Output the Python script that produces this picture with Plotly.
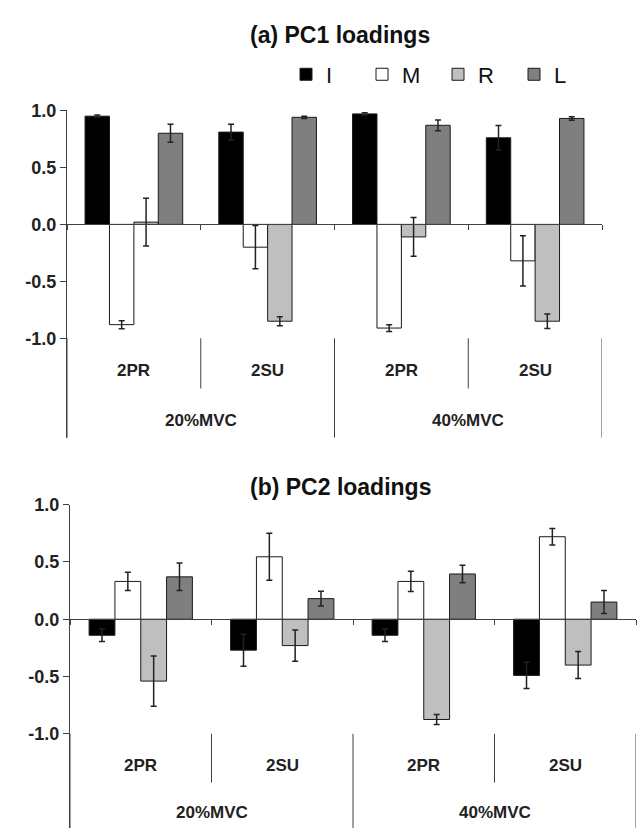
import plotly.graph_objects as go

# ---------------- data ----------------
conditions = ["20%MVC", "20%MVC", "40%MVC", "40%MVC"]
postures = ["2PR", "2SU", "2PR", "2SU"]
series = ["I", "M", "R", "L"]

pc1_I = [0.95, 0.81, 0.97, 0.76]
pc1_M = [-0.88, -0.20, -0.91, -0.32]
pc1_R = [0.02, -0.85, -0.11, -0.85]
pc1_L = [0.80, 0.94, 0.87, 0.93]
pc1_I_err = [0.01, 0.07, 0.01, 0.107]
pc1_M_err = [0.035, 0.19, 0.03, 0.22]
pc1_R_err = [0.21, 0.04, 0.17, 0.063]
pc1_L_err = [0.08, 0.01, 0.047, 0.015]

pc2_I = [-0.14, -0.27, -0.14, -0.49]
pc2_M = [0.33, 0.545, 0.33, 0.72]
pc2_R = [-0.54, -0.23, -0.875, -0.40]
pc2_L = [0.37, 0.18, 0.395, 0.15]
pc2_I_err = [0.055, 0.14, 0.055, 0.115]
pc2_M_err = [0.08, 0.205, 0.088, 0.072]
pc2_R_err = [0.22, 0.136, 0.043, 0.118]
pc2_L_err = [0.12, 0.065, 0.077, 0.10]

y_tick_vals = [-1.0, -0.5, 0.0, 0.5, 1.0]
y_tick_text = [f"{v:.1f}" for v in y_tick_vals]
titles = ["(a) PC1 loadings", "(b) PC2 loadings"]

# ---------------- style ----------------
colors = {"I": "#000000", "M": "#ffffff", "R": "#bfbfbf", "L": "#7f7f7f"}
AX = "#404040"
FONT = "Liberation Sans, Arial, sans-serif"

categories = [f"{c} {p}" for c, p in zip(conditions, postures)]

W, H = 640, 828
panels = [
    dict(vals=[pc1_I, pc1_M, pc1_R, pc1_L], errs=[pc1_I_err, pc1_M_err, pc1_R_err, pc1_L_err],
         xpx=(67, 602), ytop=101.7, ybot=433, ymin=-1.873, inner_lab=-1.284, inner_sep=-1.44,
         outer_lab=-1.717, title_y=25),
    dict(vals=[pc2_I, pc2_M, pc2_R, pc2_L], errs=[pc2_I_err, pc2_M_err, pc2_R_err, pc2_L_err],
         xpx=(70, 636), ytop=500.7, ybot=828, ymin=-1.822, inner_lab=-1.278, inner_sep=-1.425,
         outer_lab=-1.684, title_y=483),
]

fig = go.Figure()
annotations = []
shapes = []

for k, p in enumerate(panels):
    xa = "x" if k == 0 else f"x{k+1}"
    ya = "y" if k == 0 else f"y{k+1}"
    xname = "xaxis" if k == 0 else f"xaxis{k+1}"
    yname = "yaxis" if k == 0 else f"yaxis{k+1}"
    for s, v, e in zip(series, p["vals"], p["errs"]):
        fig.add_trace(go.Bar(
            x=categories, y=v, name=s, xaxis=xa, yaxis=ya,
            marker=dict(color=colors[s], line=dict(color="#1a1a1a", width=1)),
            error_y=dict(type="data", array=e, visible=True, color="#222222",
                         thickness=1.5, width=3),
            showlegend=(k == 0), legendgroup=s,
        ))
    ydom = [1 - p["ybot"] / H, 1 - p["ytop"] / H]
    yr = [p["ymin"], 1.0]
    zero_pos = ydom[0] + (0 - yr[0]) / (yr[1] - yr[0]) * (ydom[1] - ydom[0])
    fig.layout[xname] = dict(
        domain=[p["xpx"][0] / W, p["xpx"][1] / W], anchor="free", position=zero_pos,
        type="category", categoryorder="array", categoryarray=categories,
        range=[-0.5, len(categories) - 0.5], tickson="boundaries", ticks="outside",
        ticklen=5, tickcolor=AX, tickwidth=1, showline=True, linecolor=AX, linewidth=1,
        showticklabels=False, showgrid=False, zeroline=False, fixedrange=True,
    )
    fig.layout[yname] = dict(
        domain=ydom, anchor=xa, range=yr, tickvals=y_tick_vals, ticktext=y_tick_text,
        ticks="outside", ticklen=6, tickcolor=AX, tickwidth=1, showline=True,
        linecolor=AX, linewidth=1, showgrid=False, zeroline=False,
        tickfont=dict(family=FONT, size=18, color="#222222", weight="bold"),
        fixedrange=True,
    )
    # category labels
    for i, post in enumerate(postures):
        annotations.append(dict(x=categories[i], y=p["inner_lab"], xref=xa, yref=ya,
                                text=post, showarrow=False,
                                font=dict(family=FONT, size=17, color="#222222", weight="bold")))
    groups = []
    for i, c in enumerate(conditions):
        if not groups or groups[-1][0] != c:
            groups.append([c, [i]])
        else:
            groups[-1][1].append(i)
    for c, idx in groups:
        annotations.append(dict(x=sum(idx) / len(idx), y=p["outer_lab"], xref=xa, yref=ya,
                                text=c, showarrow=False,
                                font=dict(family=FONT, size=17, color="#222222", weight="bold")))
    # separators
    outer_bounds = set([g[1][0] for g in groups] + [len(categories)])
    for b in range(len(categories) + 1):
        yend = yr[0] if b in outer_bounds else p["inner_sep"]
        shapes.append(dict(type="line", xref=xa, yref=ya, x0=b - 0.5, x1=b - 0.5,
                           y0=-1.0, y1=yend, line=dict(color=AX, width=1)))
    annotations.append(dict(x=340 / W, y=1 - p["title_y"] / H, xref="paper", yref="paper",
                            text=titles[k], showarrow=False, xanchor="center", yanchor="middle",
                            font=dict(family=FONT, size=23, color="#111111", weight="bold")))

fig.update_layout(
    width=W, height=H, margin=dict(l=0, r=0, t=0, b=0),
    paper_bgcolor="white", plot_bgcolor="white",
    barmode="group", bargap=0.27, bargroupgap=0,
    annotations=annotations, shapes=shapes,
    legend=dict(orientation="h", x=286 / W, y=1 - 44 / H, xanchor="left", yanchor="top",
                font=dict(family=FONT, size=22, color="#111111"),
                entrywidth=31, bgcolor="rgba(0,0,0,0)", traceorder="normal"),
)

fig.write_html("out.html", config={"displayModeBar": False},
               post_script="document.body.style.margin='0';document.body.style.overflow='hidden';")
